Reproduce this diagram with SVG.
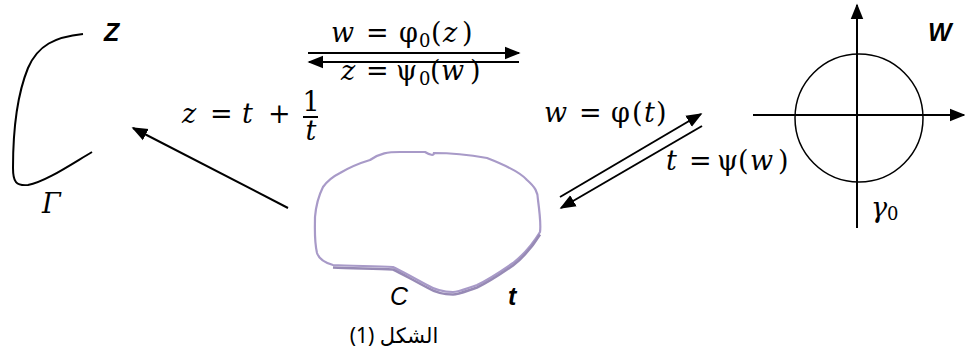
<svg xmlns="http://www.w3.org/2000/svg" width="965" height="356" viewBox="0 0 965 356">
<style>
.m{font-family:"DejaVu Serif","Liberation Serif",serif;font-size:27px;fill:#000}
.i{font-style:italic}
.s{font-size:18px}
.b{font-family:"Liberation Sans","DejaVu Sans",sans-serif;font-weight:bold;font-style:italic;font-size:25px;fill:#000}
.ln{stroke:#000;stroke-width:2;fill:none}
</style>
<defs>
<marker id="ah2" viewBox="0 0 10 10" refX="9" refY="5" markerWidth="16" markerHeight="16" markerUnits="userSpaceOnUse" orient="auto">
<path d="M0,1 L10,5 L0,9 z" fill="#000"/>
</marker>
</defs>

<g id="z-plane">
<path class="ln" d="M83,34 C55,37 38,45 28,68 C17,95 13,130 13,168 C13,182 16,186 28,185 C45,182 70,165 92,152"/>
<text class="b" x="104" y="41">Z</text>
<text class="m i" x="42" y="213">Γ</text>
</g>

<g id="t-plane">
<path d="M370,160 C380,153 388,152 400,152 L425,152 C430,155 434,156 434,153 C450,153 470,155 487,158 C505,165 520,172 527,180 C535,187 538,192 538,200 C540,215 541,225 540,232 C532,245 522,256 513,263 C500,272 488,280 477,285 C465,289 458,292 453,292 C440,292 432,288 427,285 C410,276 400,270 393,267 C375,266 350,266 333,265 C322,262 318,256 317,253 C314,240 315,228 315,217 C316,205 319,195 323,187 C328,180 334,176 340,173 C350,167 360,163 370,160 z" fill="none" stroke="#a89ac8" stroke-width="2.2"/>
<path d="M333,266 C350,267 375,267 393,268 C400,271 410,277 427,286 C432,289 440,293 453,293 C458,293 465,290 477,286 C488,281 500,273 513,264 C522,257 532,246 540,233" fill="none" stroke="#978ab5" stroke-width="2.5" transform="translate(0,1.5)"/>
<text class="b" x="390" y="305" style="font-weight:normal">C</text>
<text class="b" x="508" y="305">t</text>
</g>

<g id="w-plane">
<line class="ln" x1="857" y1="228" x2="857" y2="5" marker-end="url(#ah2)"/>
<line class="ln" x1="753" y1="115" x2="964" y2="115" marker-end="url(#ah2)"/>
<circle cx="859" cy="118" r="64" fill="none" stroke="#000" stroke-width="1.5"/>
<text class="b" x="928" y="41">W</text>
<text class="m" y="217"><tspan class="i" x="871">γ</tspan><tspan class="s" x="887" dy="3">0</tspan></text>
</g>

<g id="connectors">
<line class="ln" x1="288" y1="208" x2="133" y2="128" marker-end="url(#ah2)"/>
<line class="ln" x1="308" y1="53" x2="519" y2="53" marker-end="url(#ah2)"/>
<line class="ln" x1="519" y1="62" x2="309" y2="62" marker-end="url(#ah2)"/>
<line class="ln" x1="560" y1="197" x2="701" y2="114" marker-end="url(#ah2)"/>
<line class="ln" x1="702" y1="126" x2="561" y2="208" marker-end="url(#ah2)"/>
</g>

<g id="labels">
<text class="m" y="42"><tspan class="i" x="331">w</tspan><tspan x="366">=</tspan><tspan x="399">φ</tspan><tspan class="s" x="419" dy="5">0</tspan><tspan x="431" dy="-5">(</tspan><tspan class="i" x="443">z</tspan><tspan x="462">)</tspan></text>
<text class="m" y="80"><tspan class="i" x="341">z</tspan><tspan x="366">=</tspan><tspan x="396">ψ</tspan><tspan class="s" x="419" dy="5">0</tspan><tspan x="430" dy="-5">(</tspan><tspan class="i" x="441">w</tspan><tspan x="470">)</tspan></text>
<text class="m" y="123"><tspan class="i" x="182">z</tspan><tspan x="210">=</tspan><tspan class="i" x="242">t</tspan><tspan x="268">+</tspan></text>
<text class="m" x="311" y="111" font-size="16" text-anchor="middle">1</text>
<line x1="303" y1="117" x2="318" y2="117" stroke="#000" stroke-width="2"/>
<text class="m i" x="311" y="140" font-size="20" text-anchor="middle">t</text>
<text class="m" y="122"><tspan class="i" x="544">w</tspan><tspan x="579">=</tspan><tspan x="611">φ</tspan><tspan x="632">(</tspan><tspan class="i" x="644">t</tspan><tspan x="656">)</tspan></text>
<text class="m" y="170"><tspan class="i" x="666">t</tspan><tspan x="689">=</tspan><tspan x="717">ψ</tspan><tspan x="738">(</tspan><tspan class="i" x="750">w</tspan><tspan x="778">)</tspan></text>
<text x="394" y="343" font-family="'Noto Sans','DejaVu Sans',sans-serif" font-size="21" text-anchor="middle" fill="#000">الشكل (1)</text>
</g>
</svg>
